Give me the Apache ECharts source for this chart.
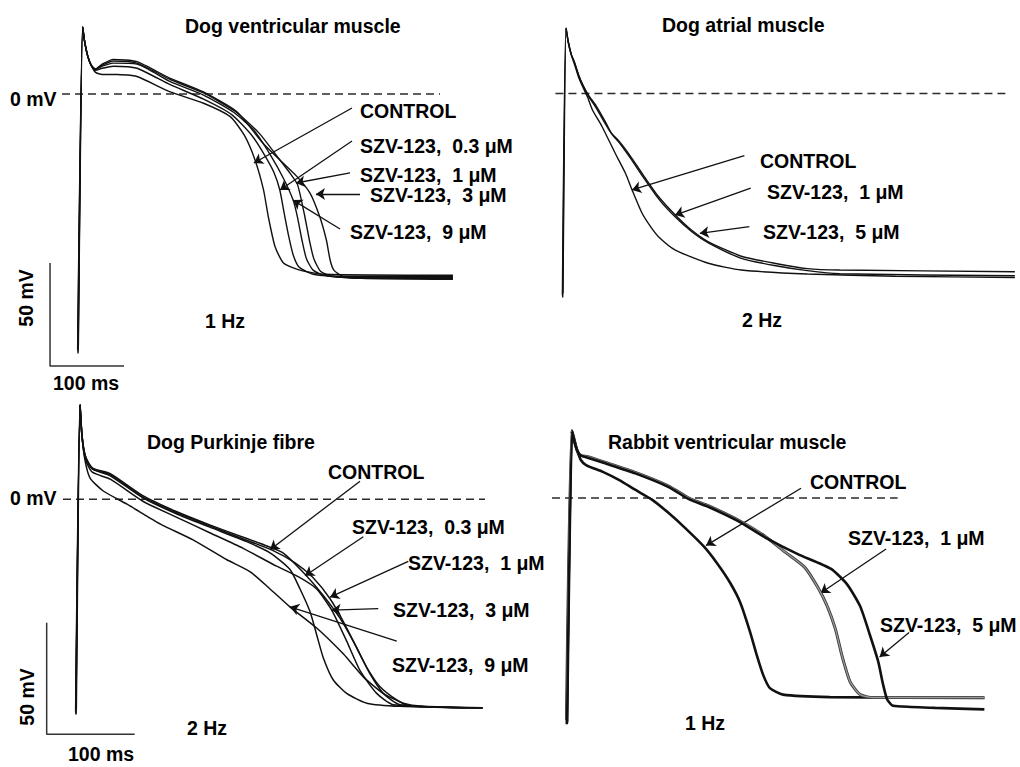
<!DOCTYPE html>
<html>
<head>
<meta charset="utf-8">
<title>SZV-123 action potentials</title>
<script src="https://cdn.jsdelivr.net/npm/echarts@6/dist/echarts.min.js"></script>
<style>
  html, body { margin: 0; padding: 0; background: #fff; }
  #chart { width: 1020px; height: 767px; }
</style>
</head>
<body>
<div id="chart"></div>
<script>
// ---- Recorded traces: [time (ms from upstroke), membrane potential (mV)] ----

// Dog ventricular muscle, 1 Hz
const dvControl = [[-2.7,-126],[3.6,32.5],[6,26],[10,19],[15,14],[21,10.5],[30,9.5],[50,9.5],[77,8.5],[122,1],[167,-4.5],[203,-11],[222,-20],[236.5,-32],[248,-46.5],[254.5,-59.6],[263.5,-74],[275,-82],[297,-85.5],[330,-87.5],[504,-88]];
const dv03 = [[-2.2,-122],[3.8,32.5],[6,26],[10,19],[15,14],[21,11.5],[30,12.5],[45,13.5],[77,12.5],[122,4.5],[167,-2.5],[205,-10],[232,-20],[250,-30],[262,-38],[270,-46.6],[276,-58],[282,-69],[288,-78],[296,-84],[315,-87.5],[360,-88.5],[504,-88.5]];
const dv1 = [[-3.2,-124],[3.4,32.5],[6,26],[10,19],[15,14],[21,12],[30,14],[45,16],[77,15],[122,7],[167,0.5],[210,-8.5],[242,-19],[268,-31],[285,-39],[294,-44],[303,-58],[310,-71],[316,-80],[325,-86],[340,-88.5],[380,-89.5],[504,-89.5]];
const dv3 = [[-2.5,-125],[3.6,32.5],[6,26],[10,19],[15,14],[20,12],[30,14.5],[45,16.8],[77,15.7],[122,7.6],[166,1.1],[212,-8.6],[247,-23.8],[270,-32],[293,-40],[311,-48.2],[324,-59.6],[333,-71],[338,-80.6],[343,-85.5],[355,-88.5],[380,-89.5],[504,-90]];
const dv9 = [[-2.9,-123],[3.5,32.5],[6,26],[10,19],[15,14],[21,12],[30,13.5],[45,15],[77,14.5],[122,6],[167,-0.5],[208,-9],[236,-18],[258,-30],[275,-41],[288,-51.5],[294,-60],[300,-71],[306,-80],[315,-85.5],[330,-88],[360,-89],[504,-89]];

// Dog atrial muscle, 2 Hz
const daControl = [[-3.6,-99],[0.9,31.7],[4,25],[8,19],[12,14.7],[18,8],[24,3],[30,-1.5],[37,-8],[50,-16],[68,-29],[82,-38.7],[91,-46.8],[104.5,-58],[116,-64.5],[127,-69.5],[150,-76],[195,-82.4],[240,-85.7],[330,-87.6],[450,-88.7],[613,-89.3]];
const da1 = [[-3.2,-97],[1.2,31.7],[4,25],[8,19],[12,15.5],[18,9],[24,4],[32,-1.5],[42,-7],[55,-15],[62,-19],[73,-23],[88,-30],[104.5,-38.7],[127,-50],[150,-59],[172,-66.3],[195,-72],[240,-79],[285,-82.4],[330,-85],[374,-85.7],[613,-86.5]];
const da5 = [[-4,-98],[0.6,31.7],[4,25],[8,19],[12,15.5],[18,9],[24,4],[32,-1],[42,-6],[55,-14],[64,-20],[75,-24.5],[90,-32],[106,-40.5],[128,-51.5],[150,-60],[172,-67],[195,-72.5],[240,-80],[285,-83.5],[330,-86],[374,-87.5],[613,-88.5]];

// Dog Purkinje fibre, 2 Hz
const pfControl = [[-4,-96.5],[0.6,42.4],[2.5,30],[5,22],[8,17.5],[15,13.5],[35,10.5],[72.5,0.5],[110,-6.5],[148,-12.5],[190,-19],[216.5,-24],[239,-31.4],[250.6,-40.2],[262,-50.4],[269.5,-60.7],[277,-71],[288.4,-81],[303.6,-87],[326.4,-91.4],[364,-92.8],[458,-93.5]];
const pf03 = [[-3.6,-94],[0.8,42.4],[2.5,30],[5,22],[8,18],[15,14],[35,11.5],[72.5,1.5],[110,-5.5],[148,-11.5],[186,-17],[210,-20.5],[231.6,-24.1],[256.3,-33.6],[277,-43.1],[296,-53.3],[311,-63.6],[326.4,-75.3],[341.5,-84],[360.5,-89.9],[375.6,-92.8],[458,-93.5]];
const pf1 = [[-4.4,-95],[0.4,42.4],[2.5,30],[5,22],[8,18],[15,13.5],[35,11],[72.5,0.8],[110,-6],[148,-12],[186,-17.8],[220,-23],[245,-28.5],[265,-35],[284.7,-44.6],[299.8,-54.8],[315,-66.5],[330,-78.2],[345.2,-87],[364.2,-92.1],[458,-93.5]];
const pf3 = [[-4,-93],[0.6,42.4],[2.5,30],[5,21],[8,16.5],[15,12],[35,9],[72.5,-1],[110,-8],[148,-15],[186,-22],[224,-30],[250,-35],[269.5,-40.2],[286.6,-49.7],[303.6,-63.6],[318.8,-76.8],[337.7,-87],[356.6,-92.1],[458,-93.5]];
const pf9 = [[-4.2,-96],[0.6,42.4],[2.5,30],[6,18],[12,9.5],[27,3.7],[54,-2.2],[91.5,-11],[129,-18.2],[167,-27],[194,-32.5],[216.5,-40.2],[239,-48.2],[269.5,-57.7],[300,-69.4],[322.5,-79.6],[345,-87],[368,-91.4],[391,-92.8],[458,-93.5]];

// Rabbit ventricular muscle, 1 Hz
const rvControl = [[-4.2,-100.9],[1.5,30],[4,27],[7.2,21.9],[12,17],[18.5,14.6],[37.5,11.7],[56.5,8],[75.3,3.6],[94.3,-0.7],[113.3,-6.6],[132.2,-13.2],[155,-21.9],[170,-29.3],[185,-38],[196.6,-46.8],[208,-60],[215.6,-70.2],[223,-79],[230.7,-84.8],[245.8,-87.7],[300,-88.8],[478.8,-89.2]];
const rv1 = [[-4.6,-99],[1.2,30],[4,26],[8,21],[12,19],[20,18.5],[40,16],[75,11.5],[113,5.5],[137,0],[160,-3.5],[195,-10],[225,-17],[248,-24],[270.5,-30.7],[285.6,-39.5],[297,-48.2],[306.5,-58.5],[314,-70.2],[323.5,-82],[335,-87.7],[350,-89],[400,-89],[478.8,-89]];
const rv5 = [[-3.8,-100],[1.8,30],[4,26],[8,21],[12,19],[20,18],[40,15.5],[75,11],[113,5],[137,-0.5],[160,-4],[195,-10.5],[225,-17.5],[263,-25],[301,-31.5],[320,-38.5],[335,-48.2],[346.3,-61],[356,-73],[361.5,-83],[366,-89.5],[372,-92.5],[384,-93],[422,-93.6],[478.8,-94.3]];

// Calibration bars
const barMv = 50;
const barMs = 100;

// ---- Layout ----
const FONT = 'bold 19.5px "Liberation Sans", Arial, sans-serif';
const INK = '#111';

const panels = [
  {
    x0: 80, y0: 94, sx: 0.74, sy: 2.06, tMin: -100, tMax: 600, vMin: -145, vMax: 45,
    lw: 1.4,
    traces: [
      { name: 'CONTROL', data: dvControl },
      { name: 'SZV-123, 0.3 μM', data: dv03 },
      { name: 'SZV-123, 9 μM', data: dv9 },
      { name: 'SZV-123, 1 μM', data: dv1 },
      { name: 'SZV-123, 3 μM', data: dv3 }
    ],
    zero: [-24.3, 486.5],
    bar: { t: -40.5, v: -82 },
    arrows: [
      [[367.6, -6.8], [235, -33.5]],
      [[367.6, -22.8], [270.3, -46.6]],
      [[364.9, -38.3], [291.9, -43.2]],
      [[378.4, -48.5], [318.9, -48.5]],
      [[351.4, -65.5], [287.8, -51.5]]
    ],
    texts: [
      ['Dog ventricular muscle', 185, 26],
      ['0 mV', 10, 99],
      ['CONTROL', 360, 111],
      ['SZV-123,  0.3 μM', 360, 146],
      ['SZV-123,  1 μM', 360, 175],
      ['SZV-123,  3 μM', 370, 195],
      ['SZV-123,  9 μM', 350, 232],
      ['1 Hz', 205, 321],
      ['100 ms', 53, 383]
    ],
    vtext: ['50 mV', 26, 298]
  },
  {
    x0: 566, y0: 93.5, sx: 0.74, sy: 2.06, tMin: -100, tMax: 620, vMin: -145, vMax: 45,
    lw: 1.4,
    traces: [
      { name: 'CONTROL', data: daControl },
      { name: 'SZV-123, 1 μM', data: da1 },
      { name: 'SZV-123, 5 μM', data: da5 }
    ],
    zero: [-13.5, 600],
    bar: null,
    arrows: [
      [[244.2, -30.2], [90.9, -46.8]],
      [[252.8, -45.9], [149.6, -59]],
      [[250.9, -64.6], [183.4, -67.9]]
    ],
    texts: [
      ['Dog atrial muscle', 662, 25],
      ['CONTROL', 760, 161],
      ['SZV-123,  1 μM', 767, 192],
      ['SZV-123,  5 μM', 763, 232],
      ['2 Hz', 742, 320]
    ]
  },
  {
    x0: 79.5, y0: 501.7, sx: 0.88, sy: 2.28, tMin: -80, tMax: 480, vMin: -120, vMax: 50,
    lw: 1.5,
    traces: [
      { name: 'CONTROL', data: pfControl },
      { name: 'SZV-123, 0.3 μM', data: pf03 },
      { name: 'SZV-123, 1 μM', data: pf1 },
      { name: 'SZV-123, 3 μM', data: pf3 },
      { name: 'SZV-123, 9 μM', data: pf9 }
    ],
    zero: [-18.75, 460.8],
    bar: { t: -37.3, v: -55.3 },
    arrows: [
      [[318.75, 8.07], [216.5, -22.6]],
      [[322.5, -16.8], [256.3, -34.3]],
      [[373.6, -27.8], [284.7, -43.9]],
      [[339.5, -49], [286.6, -49.7]],
      [[360.5, -63.6], [239.2, -48.2]]
    ],
    texts: [
      ['Dog Purkinje fibre', 147, 442],
      ['0 mV', 10, 498],
      ['CONTROL', 328, 472],
      ['SZV-123,  0.3 μM', 352, 527],
      ['SZV-123,  1 μM', 408, 563],
      ['SZV-123,  3 μM', 393, 610],
      ['SZV-123,  9 μM', 392, 665],
      ['2 Hz', 187, 728],
      ['100 ms', 68, 754]
    ],
    vtext: ['50 mV', 27, 697]
  },
  {
    x0: 572, y0: 500, sx: 0.88, sy: 2.28, tMin: -100, tMax: 520, vMin: -120, vMax: 50,
    lw: 2.6,
    traces: [
      { name: 'CONTROL', data: rvControl },
      { name: 'SZV-123, 1 μM', data: rv1, tint: '#9a9a9a' },
      { name: 'SZV-123, 5 μM', data: rv5 }
    ],
    zero: [-21.3, 378.4],
    bar: null,
    arrows: [
      [[266.7, 4.4], [156.8, -21.2]],
      [[365.1, -22.7], [289.4, -42.4]],
      [[391.7, -60], [357.6, -70.9]]
    ],
    texts: [
      ['Rabbit ventricular muscle', 608, 442],
      ['CONTROL', 810, 482],
      ['SZV-123,  1 μM', 848, 538],
      ['SZV-123,  5 μM', 880, 625],
      ['1 Hz', 685, 723]
    ]
  }
];

// ---- Build the option ----
const grid = [], xAxis = [], yAxis = [], series = [], graphic = [];

panels.forEach((p, i) => {
  grid.push({
    left: p.x0 + p.tMin * p.sx,
    top: p.y0 - p.vMax * p.sy,
    width: (p.tMax - p.tMin) * p.sx,
    height: (p.vMax - p.vMin) * p.sy,
    containLabel: false
  });
  xAxis.push({ type: 'value', gridIndex: i, min: p.tMin, max: p.tMax, show: false });
  yAxis.push({ type: 'value', gridIndex: i, min: p.vMin, max: p.vMax, show: false });

  const common = { xAxisIndex: i, yAxisIndex: i, clip: false, silent: true, animation: false };

  // 0 mV reference
  series.push(Object.assign({
    type: 'line', symbol: 'none',
    data: [[p.zero[0], 0], [p.zero[1], 0]],
    lineStyle: { color: '#2a2a2a', width: 1.6, type: [8, 5] }
  }, common));

  // traces
  p.traces.forEach(tr => {
    if (tr.tint) {
      series.push(Object.assign({
        type: 'line', name: tr.name, symbol: 'none', smooth: 0.2, data: tr.data,
        lineStyle: { color: '#3a3a3a', width: p.lw + 0.4 }
      }, common));
      series.push(Object.assign({
        type: 'line', name: tr.name, symbol: 'none', smooth: 0.2, data: tr.data,
        lineStyle: { color: tr.tint, width: p.lw - 1.3 }
      }, common));
    } else {
      series.push(Object.assign({
        type: 'line', name: tr.name, symbol: 'none', smooth: 0.2, data: tr.data,
        lineStyle: { color: INK, width: p.lw }
      }, common));
    }
  });

  // calibration bars
  if (p.bar) {
    const b = p.bar;
    series.push(Object.assign({
      type: 'line', symbol: 'none',
      data: [[b.t, b.v], [b.t, b.v - barMv], [b.t + barMs, b.v - barMv]],
      lineStyle: { color: '#333', width: 1.5 }
    }, common));
  }

  // pointer arrows
  series.push(Object.assign({
    type: 'lines', coordinateSystem: 'cartesian2d',
    symbol: ['none', 'arrow'], symbolSize: 9,
    data: p.arrows.map(a => ({ coords: [a[0], a[1]] })),
    lineStyle: { color: INK, width: 1.3, opacity: 1, curveness: 0 }
  }, common));

  // text
  p.texts.forEach(t => {
    graphic.push({
      type: 'text', x: t[1], y: t[2], silent: true,
      style: { text: t[0], font: FONT, fill: '#000', textAlign: 'left', textVerticalAlign: 'middle' }
    });
  });
  if (p.vtext) {
    graphic.push({
      type: 'text', x: p.vtext[1], y: p.vtext[2], rotation: Math.PI / 2, silent: true,
      style: { text: p.vtext[0], font: FONT, fill: '#000', textAlign: 'center', textVerticalAlign: 'middle' }
    });
  }
});

const chart = echarts.init(document.getElementById('chart'), null, { renderer: 'svg', width: 1020, height: 767 });
chart.setOption({
  backgroundColor: '#fff',
  animation: false,
  grid, xAxis, yAxis, series, graphic
});
</script>
</body>
</html>
